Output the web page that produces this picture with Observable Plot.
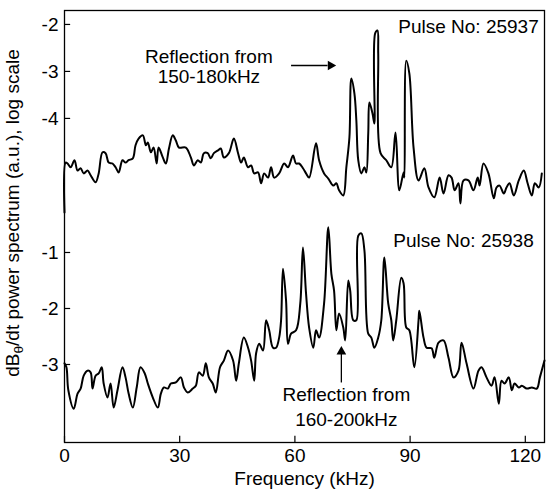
<!DOCTYPE html>
<html><head><meta charset="utf-8">
<script src="https://cdn.jsdelivr.net/npm/d3@7"></script>
<script src="https://cdn.jsdelivr.net/npm/@observablehq/plot@0.6"></script>
<style>html,body{margin:0;padding:0;background:#fff;} svg{display:block;}</style>
</head><body><div id="chart"></div>
<script>
// [frequency kHz, log power]
const pulse25937 = [[0,-6.0],[0.3,-4.94],[0.8,-4.96],[1.6,-5.04],[2.6,-4.89],[3.4,-5.11],[4.2,-5.06],[5.0,-5.17],[6.0,-5.11],[6.8,-5.21],[8.1,-5.36],[8.9,-5.17],[9.9,-4.72],[10.7,-4.74],[11.5,-4.94],[12.5,-4.96],[13.3,-5.04],[14.1,-5.15],[15.1,-4.89],[15.9,-4.94],[16.7,-4.89],[17.8,-4.85],[18.5,-4.57],[19.3,-4.43],[20.4,-4.36],[21.2,-4.57],[21.7,-4.51],[22.5,-4.72],[23.2,-4.62],[24.0,-4.96],[24.5,-4.62],[25.6,-4.83],[26.4,-4.96],[27.2,-4.64],[28.2,-4.36],[29.0,-4.47],[29.8,-4.62],[31.6,-4.62],[32.9,-4.83],[33.7,-5.00],[34.7,-4.89],[35.5,-4.94],[36.3,-4.74],[37.3,-4.74],[38.1,-4.85],[38.9,-4.74],[40.0,-4.68],[40.7,-4.64],[41.5,-4.83],[42.8,-4.74],[44.1,-4.43],[45.2,-4.74],[46.0,-4.94],[46.7,-4.83],[47.8,-5.04],[48.6,-5.00],[49.4,-5.17],[50.4,-5.15],[51.2,-5.38],[52.0,-5.17],[53.0,-5.26],[53.8,-5.04],[54.6,-5.26],[55.9,-5.17],[57.2,-4.96],[58.2,-5.04],[59.5,-4.79],[60.3,-4.96],[61.1,-4.96],[62.1,-5.06],[62.9,-5.17],[63.7,-5.26],[65.5,-4.53],[66.3,-4.89],[67.6,-5.17],[68.7,-5.28],[70.0,-5.43],[70.8,-5.38],[71.5,-5.53],[72.6,-5.64],[73.4,-5.04],[74.2,-4.40],[74.7,-3.15],[75.5,-3.47],[76.0,-4.04],[76.5,-4.89],[77.3,-5.17],[78.1,-5.04],[78.6,-5.15],[79.1,-4.32],[79.4,-3.66],[80.2,-3.89],[80.7,-4.11],[80.9,-2.19],[81.5,-2.13],[81.7,-2.62],[82.3,-4.74],[83.8,-4.89],[85.1,-5.04],[86.2,-4.30],[87.2,-5.53],[88.3,-5.15],[88.5,-5.26],[89.0,-2.77],[89.8,-3.04],[90.9,-4.62],[92.2,-5.32],[93.7,-5.06],[94.8,-5.47],[96.3,-5.68],[97.7,-5.26],[98.7,-5.60],[100.0,-5.21],[100.8,-5.26],[101.6,-5.53],[102.6,-5.38],[103.1,-5.81],[103.9,-5.32],[105.2,-5.32],[106.5,-5.53],[107.6,-5.26],[108.1,-5.43],[109.1,-4.96],[110.4,-5.17],[111.8,-5.70],[112.5,-5.47],[113.3,-5.43],[114.4,-5.60],[115.1,-5.47],[115.9,-5.38],[117.0,-5.64],[118.3,-5.32],[119.6,-5.11],[120.6,-5.38],[121.7,-5.64],[122.5,-5.38],[123.5,-5.47],[124.3,-5.17]];

const pulse25938 = [[0,-2.98],[0.5,-3.05],[1.0,-3.46],[2.4,-3.79],[3.4,-3.52],[4.2,-3.43],[5.0,-3.20],[6.0,-3.11],[6.8,-3.14],[7.3,-3.43],[8.1,-3.20],[8.9,-3.16],[9.7,-3.05],[10.2,-3.34],[11.2,-3.59],[12.0,-3.34],[12.8,-3.77],[13.8,-3.46],[15.1,-3.05],[15.9,-3.23],[16.7,-3.52],[17.8,-3.77],[18.8,-3.41],[19.8,-3.05],[20.9,-3.16],[21.7,-3.34],[23.0,-3.59],[24.3,-3.77],[25.1,-3.52],[25.9,-3.41],[26.9,-3.43],[27.7,-3.34],[29.0,-3.32],[30.3,-3.23],[31.1,-3.41],[32.1,-3.50],[33.4,-3.43],[34.2,-3.38],[35.0,-3.14],[36.0,-3.20],[36.8,-2.98],[37.6,-3.23],[38.6,-3.34],[39.4,-3.50],[40.5,-3.05],[41.5,-2.93],[42.6,-2.75],[43.9,-2.93],[44.7,-3.29],[45.4,-2.98],[46.7,-2.52],[47.8,-2.70],[48.6,-2.93],[49.4,-3.29],[49.9,-2.80],[50.7,-2.63],[51.7,-2.75],[52.5,-2.21],[53.3,-2.39],[54.3,-2.70],[55.1,-2.70],[55.9,-2.52],[56.4,-2.21],[56.9,-1.29],[57.7,-1.86],[58.2,-2.63],[59.0,-2.45],[60.3,-2.39],[61.4,-1.91],[62.1,-0.91],[62.9,-1.73],[63.7,-2.34],[64.8,-2.70],[65.5,-2.39],[66.3,-2.52],[67.6,-1.91],[68.7,-0.55],[69.5,-1.38],[70.2,-1.68],[70.8,-2.39],[71.5,-2.09],[72.6,-2.34],[73.1,-2.57],[73.9,-1.50],[74.4,-1.68],[75.2,-2.21],[76.0,-2.21],[76.5,-0.70],[77.3,-0.66],[78.1,-0.96],[79.1,-2.45],[79.9,-2.52],[80.7,-2.70],[81.7,-2.52],[82.5,-2.21],[83.3,-1.09],[84.3,-1.91],[85.1,-2.21],[85.6,-2.57],[86.4,-2.21],[87.7,-1.45],[88.3,-1.55],[89.0,-2.34],[89.8,-2.39],[91.1,-3.05],[92.2,-2.21],[92.4,-2.04],[93.5,-2.52],[94.3,-2.70],[95.6,-2.71],[96.3,-2.88],[97.4,-2.61],[98.7,-2.57],[100.0,-2.88],[101.3,-3.23],[102.6,-3.11],[103.4,-2.61],[104.7,-2.98],[106.5,-3.43],[107.8,-3.11],[108.6,-3.05],[109.9,-3.23],[111.2,-3.38],[112.0,-3.23],[113.1,-3.70],[113.8,-3.29],[114.6,-3.34],[115.7,-3.23],[116.5,-3.46],[117.2,-3.34],[118.3,-3.41],[119.1,-3.38],[120.4,-3.43],[121.7,-3.41],[123.0,-3.43],[123.8,-3.23],[125.0,-2.93]];

const xTicks = [0, 30, 60, 90, 120];
const upperTickLabels = [-2, -3, -4];
const lowerTickLabels = [-1, -2, -3];
const pulseLabels = ["Pulse No: 25937", "Pulse No: 25938"];
const upperNote = ["Reflection from", "150-180kHz"];
const lowerNote = ["Reflection from", "160-200kHz"];
const xLabel = "Frequency (kHz)";

const FONT = "'Liberation Sans', Arial, Helvetica, sans-serif";
const FS = 19;
const Y_MIN = -4.393, Y_MAX = 3.321;
// upper trace is drawn on its own offset/gain of the shared vertical axis
const UPPER_SHIFT = 4.75, UPPER_GAIN = 0.839;
const upperY = v => UPPER_SHIFT + UPPER_GAIN * v;

const upperData = pulse25937.map(([f, v]) => ({f, y: upperY(v)}));
const lowerData = pulse25938.map(([f, v]) => ({f, y: v}));
const yTicks = [
  ...upperTickLabels.map(v => ({pos: upperY(v), label: v})),
  ...lowerTickLabels.map(v => ({pos: v, label: v}))
];
const fmt = v => "-" + Math.abs(v);
const txt = {fontSize: FS, fontFamily: FONT, fill: "black"};
const lineStyle = {x: "f", y: "y", stroke: "black", strokeWidth: 2, strokeLinejoin: "round", curve: "catmull-rom"};

const chart = Plot.plot({
  width: 550, height: 492,
  marginLeft: 64, marginRight: 6, marginTop: 10, marginBottom: 50,
  style: {fontFamily: FONT, background: "white", color: "black"},
  x: {domain: [0, 125], axis: null},
  y: {domain: [Y_MIN, Y_MAX], axis: null},
  marks: [
    Plot.line(upperData, lineStyle),
    Plot.line(lowerData, lineStyle),
    Plot.frame({stroke: "black", strokeWidth: 1.3}),
    Plot.ruleY(yTicks, {y: "pos", x1: 0, x2: 1.6, stroke: "black", strokeWidth: 1.2}),
    Plot.ruleX(xTicks, {x: d => d, y1: Y_MIN, y2: Y_MIN + 0.11, stroke: "black", strokeWidth: 1.2}),
    Plot.text(yTicks, {x: 0, y: "pos", text: d => fmt(d.label), textAnchor: "end", dx: -6, ...txt}),
    Plot.text(xTicks, {x: d => d, y: Y_MIN, text: d => String(d), lineAnchor: "top", dy: 6, ...txt}),
    Plot.text([pulseLabels[0]], {x: 123.5, y: 3.036, text: d => d, textAnchor: "end", ...txt}),
    Plot.text([pulseLabels[1]], {x: 122.2, y: -0.80, text: d => d, textAnchor: "end", ...txt}),
    Plot.text([upperNote[0]], {x: 37.6, y: 2.5, text: d => d, ...txt}),
    Plot.text([upperNote[1]], {x: 37.6, y: 2.143, text: d => d, ...txt}),
    Plot.text([lowerNote[0]], {x: 73.4, y: -3.536, text: d => d, ...txt}),
    Plot.text([lowerNote[1]], {x: 73.4, y: -3.982, text: d => d, ...txt}),
    // arrows
    Plot.link([0], {x1: 59.0, x2: 68.5, y1: 2.339, y2: 2.339, stroke: "black", strokeWidth: 1.3}),
    Plot.dot([0], {x: 69.3, y: 2.339, symbol: "triangle", rotate: 90, r: 3.6, fill: "black", stroke: "none"}),
    Plot.link([0], {x1: 72.1, x2: 72.1, y1: -3.321, y2: -2.80, stroke: "black", strokeWidth: 1.3}),
    Plot.dot([0], {x: 72.1, y: -2.77, symbol: "triangle", rotate: 0, r: 3.6, fill: "black", stroke: "none"}),
    Plot.text([xLabel], {frameAnchor: "bottom", text: d => d, dy: 42, ...txt})
  ]
});
document.getElementById("chart").appendChild(chart);

// rotated y-axis title with subscript theta
const yl = d3.select(chart).append("text")
  .attr("transform", "translate(19,213) rotate(-90)")
  .attr("text-anchor", "middle")
  .attr("font-family", FONT)
  .attr("font-size", FS)
  .attr("fill", "black");
yl.append("tspan").text("dB");
yl.append("tspan").attr("font-size", FS * 0.72).attr("dy", 4).text("θ");
yl.append("tspan").attr("dy", -4).text("/dt power spectrum (a.u.), log scale");
</script>
</body></html>
